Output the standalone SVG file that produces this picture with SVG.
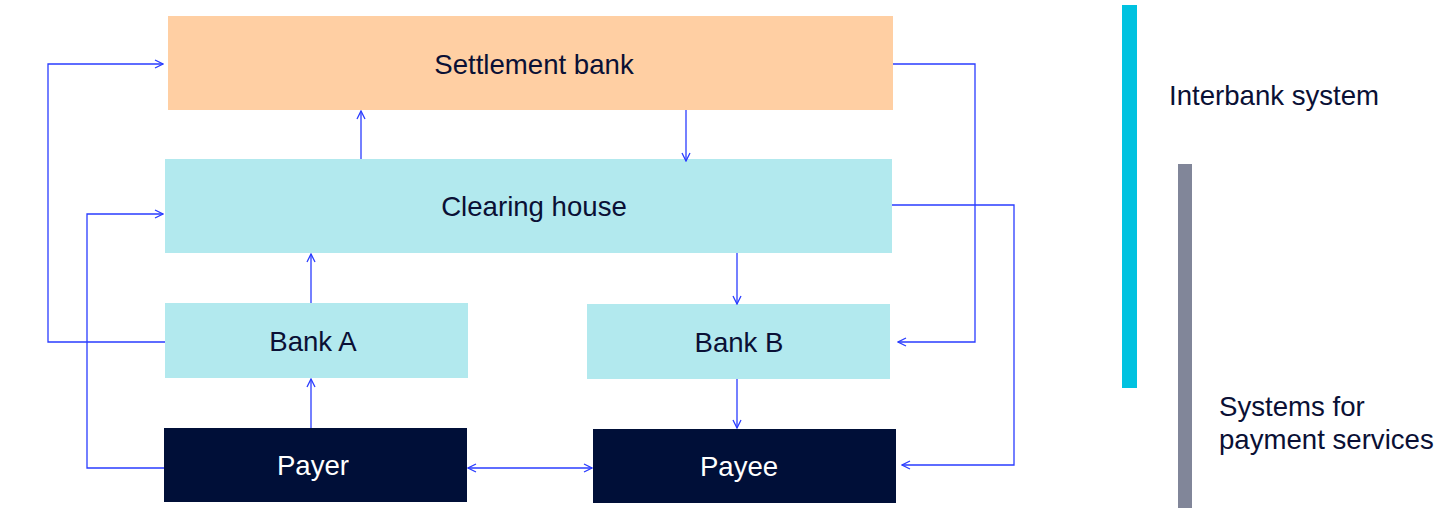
<svg xmlns="http://www.w3.org/2000/svg" width="1445" height="522" viewBox="0 0 1445 522">
<style>
.lbl{font-family:"Liberation Sans",Arial,sans-serif;font-size:27.6px;fill:#0a1035;}
.w{fill:#ffffff;}
.c{stroke:#2a3cff;stroke-width:1.3;fill:none;}
.side{font-family:"Liberation Sans",Arial,sans-serif;font-size:27.6px;fill:#0a1035;}
</style>
<defs>
<marker id="ah" viewBox="0 0 10 10" refX="9" refY="5" markerWidth="10" markerHeight="10" markerUnits="userSpaceOnUse" orient="auto-start-reverse">
<path d="M1,1 L9,5 L1,9" fill="none" stroke="#2a3cff" stroke-width="1.3"/>
</marker>
</defs>
<rect width="1445" height="522" fill="#ffffff"/>
<g id="settlement"><rect x="168" y="16" width="725" height="94" fill="#ffcfa3"/><text class="lbl" x="534" y="74" text-anchor="middle">Settlement bank</text></g>
<g id="clearing"><rect x="165" y="159" width="727" height="94" fill="#b2e9ee"/><text class="lbl" x="534" y="216" text-anchor="middle">Clearing house</text></g>
<g id="bankA"><rect x="165" y="303" width="303" height="75" fill="#b2e9ee"/><text class="lbl" x="313" y="351" text-anchor="middle">Bank A</text></g>
<g id="bankB"><rect x="587" y="304" width="303" height="75" fill="#b2e9ee"/><text class="lbl" x="739" y="352" text-anchor="middle">Bank B</text></g>
<g id="payer"><rect x="164" y="428" width="303" height="74" fill="#000f38"/><text class="lbl w" x="313" y="475" text-anchor="middle">Payer</text></g>
<g id="payee"><rect x="593" y="429" width="303" height="74" fill="#000f38"/><text class="lbl w" x="739" y="476" text-anchor="middle">Payee</text></g>
<g id="interbank"><rect x="1122" y="5" width="15" height="383" fill="#00c2e0"/><text class="side" x="1169" y="105">Interbank system</text></g>
<g id="paymentsys"><rect x="1178" y="164" width="14" height="344" fill="#818699"/><text class="side" x="1219" y="416">Systems for</text><text class="side" x="1219" y="449">payment services</text></g>
<g id="connectors">
<path class="c" d="M165,342 H48 V64 H163" marker-end="url(#ah)"/>
<path class="c" d="M164,468 H87 V214 H163" marker-end="url(#ah)"/>
<path class="c" d="M361,159 V111" marker-end="url(#ah)"/>
<path class="c" d="M686,110 V161" marker-end="url(#ah)"/>
<path class="c" d="M311,303 V254" marker-end="url(#ah)"/>
<path class="c" d="M737,253 V304" marker-end="url(#ah)"/>
<path class="c" d="M311,428 V379" marker-end="url(#ah)"/>
<path class="c" d="M737,379 V428" marker-end="url(#ah)"/>
<path class="c" d="M468,468 H592" marker-start="url(#ah)" marker-end="url(#ah)"/>
<path class="c" d="M893,64 H975 V342 H898" marker-end="url(#ah)"/>
<path class="c" d="M892,205 H1014 V465 H902" marker-end="url(#ah)"/>
</g>
</svg>
